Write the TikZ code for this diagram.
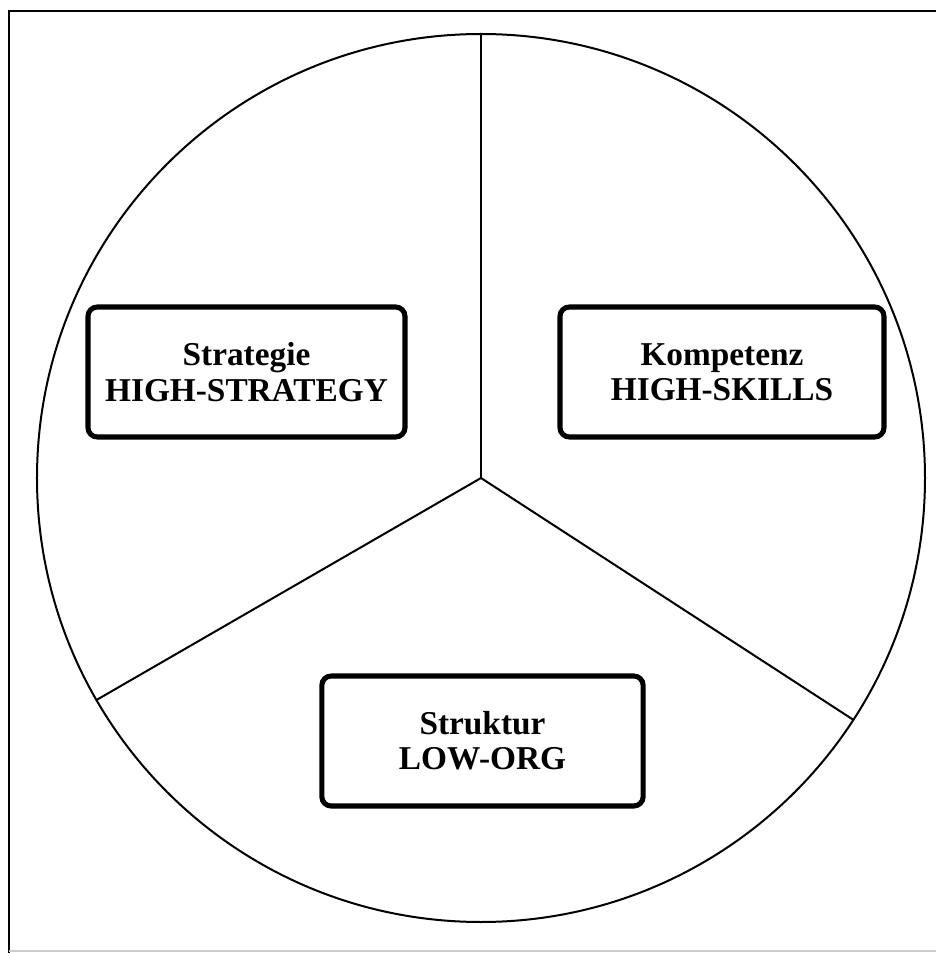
\documentclass[tikz,border=0pt]{standalone}
\usepackage{fontspec}
\setmainfont{Liberation Serif}
\tikzset{
	sector/.style={line width=1.5pt},
	labelbox/.style={draw, line width=3.8pt, rounded corners=7pt, align=center,
		font=\bfseries\fontsize{25}{26.5}\selectfont,
		minimum width=241pt, minimum height=97.5pt, inner sep=0pt},
}
\begin{document}
\begin{tikzpicture}[x=0.75pt,y=0.75pt]
	\useasboundingbox (-481,-475) rectangle (455,478);
	% frame
	\draw[line width=2.2pt] (455,467) -- (-472,467) -- (-472,-475);
	\draw[line width=1pt, black!20] (-472,-473) -- (455,-473);
	
	\coordinate (O) at (0,0);
	\coordinate (N) at (90:444);
	\coordinate (SW) at (210:444);
	\coordinate (SE) at (327:444);
	\draw[sector] (O) circle (444);
	\draw[sector] (O) -- (N);
	\draw[sector] (O) -- (SW);
	\draw[sector] (O) -- (SE);
	
	\node[labelbox, minimum width=237.75pt] (strat) at (-234.5,106) {Strategie\\HIGH-STRATEGY};
	\node[labelbox, minimum width=243pt] (komp) at (241,106) {Kompetenz\\HIGH-SKILLS};
	\node[labelbox] (struk) at (1.5,-263) {Struktur\\LOW-ORG};
\end{tikzpicture}
\end{document}
